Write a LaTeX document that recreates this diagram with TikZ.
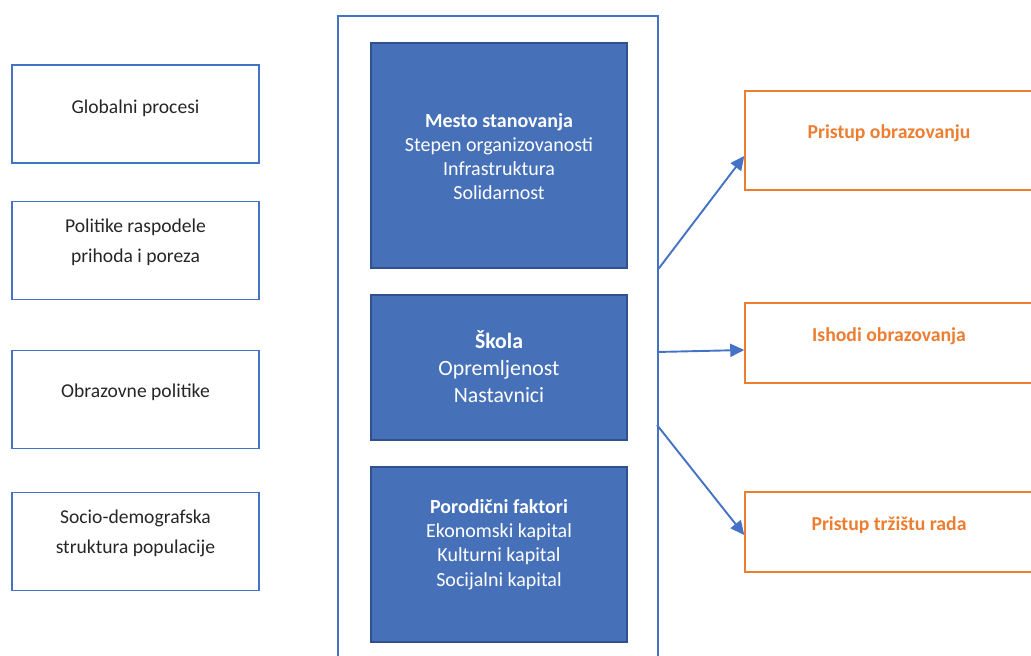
\documentclass[tikz,border=0pt]{standalone}
\usepackage{fontspec}
\setmainfont{Carlito}
\usetikzlibrary{arrows.meta}
\definecolor{frameBlue}{RGB}{68,114,196}
\definecolor{boxBlue}{RGB}{70,113,184}
\definecolor{edgeBlue}{RGB}{47,82,143}
\definecolor{outOrange}{RGB}{237,125,49}
\definecolor{textGrey}{RGB}{38,38,38}
\tikzstyle{canvas} = [x = 1pt, y = -1pt]
\tikzstyle{leftBoxStyle} = [draw=frameBlue, line width=1.8pt, inner sep=0pt, minimum width=247pt, minimum height=98pt]
\tikzstyle{leftText} = [font=\fontsize{19.6}{30}\selectfont, color=textGrey, align=center]
\tikzstyle{frameStyle} = [draw=frameBlue, line width=1.6pt, inner sep=0pt, anchor=north west]
\tikzstyle{factorBox} = [draw=edgeBlue, fill=boxBlue, line width=1.4pt, inner sep=0pt, minimum width=256pt]
\tikzstyle{factorText} = [font=\fontsize{20}{24.2}\selectfont, color=white, align=center]
\tikzstyle{outBox} = [draw=outOrange, line width=1.5pt, inner sep=0pt, minimum width=288pt]
\tikzstyle{outText} = [font=\fontsize{19.7}{24}\selectfont\bfseries, color=outOrange]
\tikzstyle{effectArrow} = [draw=frameBlue, line width=1.9pt, -{Triangle[length=14pt, width=13pt]}]
\newcommand{\leftBox}[4]{\node [leftBoxStyle] (#1) at (135.5, #2) {};
  \node [leftText] (#1Text) at ([yshift=#3]#1.center) {#4};}
\newcommand{\outcomeBox}[4]{\node [outBox, minimum height=#3] (#1) at (889, #2) {};
  \node [outText] (#1Text) at ([yshift=7pt]#1.center) {#4};}

\begin{document}
\begin{tikzpicture}[canvas]
  \useasboundingbox (0,0) rectangle (1031,656);

  \leftBox{global}{114}{6pt}{Globalni procesi}
  \leftBox{income}{250.5}{8.5pt}{Politike raspodele\\prihoda i poreza}
  \leftBox{eduPolicy}{399.5}{7pt}{Obrazovne politike}
  \leftBox{socio}{541.5}{8.5pt}{Socio-demografska\\struktura populacije}

  \node [frameStyle, minimum width=320pt, minimum height=660pt] (frame) at (337, 15) {};

  \node [factorBox, minimum height=225pt] (place) at (499, 155.5) {};
  \node [factorText] (placeText) at ([yshift=-1pt]place.center) {\textbf{Mesto stanovanja}\\Stepen organizovanosti\\Infrastruktura\\Solidarnost};
  \node [factorBox, minimum height=145pt] (school) at (499, 367.5) {};
  \node [factorText, font=\fontsize{21.8}{27}\selectfont] (schoolText) at ([yshift=1pt]school.center) {\textbf{Škola}\\Opremljenost\\Nastavnici};
  \node [factorBox, minimum height=175pt] (family) at (499, 554.5) {};
  \node [factorText] (familyText) at ([yshift=10pt]family.center) {\textbf{Porodični faktori}\\Ekonomski kapital\\Kulturni kapital\\Socijalni kapital};

  \outcomeBox{access}{140.5}{99pt}{Pristup obrazovanju}
  \outcomeBox{results}{343}{80pt}{Ishodi obrazovanja}
  \outcomeBox{labour}{532}{80pt}{Pristup tržištu rada}

  \coordinate (fromPlace) at (frame.east |- place.south);
  \coordinate (fromSchool) at (657, 352);
  \coordinate (fromFamily) at (657, 425);
  \draw [effectArrow] (fromPlace) -- ([yshift=-15.5pt]access.west);
  \draw [effectArrow] (fromSchool) -- ([yshift=-7pt]results.west);
  \draw [effectArrow] (fromFamily) -- ([yshift=-3pt]labour.west);
\end{tikzpicture}
\end{document}
